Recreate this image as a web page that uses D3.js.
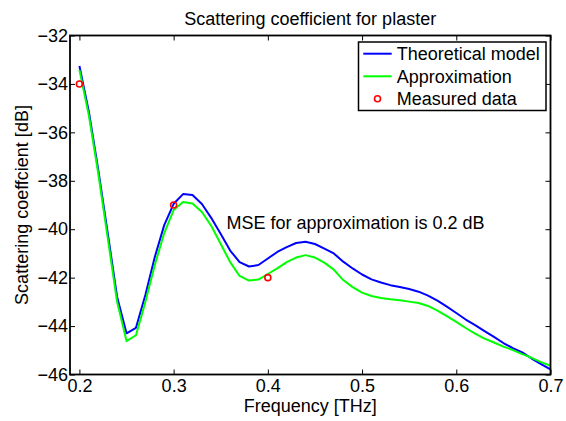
<!DOCTYPE html>
<html>
<head>
<meta charset="utf-8">
<script src="https://cdn.jsdelivr.net/npm/d3@7"></script>
<style>
  body { margin: 0; background: #fff; }
  text { font-family: "Liberation Sans", Arial, Helvetica, sans-serif; fill: #000; }
</style>
</head>
<body>
<svg id="chart" width="566" height="421"></svg>
<script>
// Frequency samples [THz]
const frequency = [
  0.20, 0.21, 0.22, 0.23, 0.24, 0.25, 0.26, 0.27, 0.28, 0.29,
  0.30, 0.31, 0.32, 0.33, 0.34, 0.35, 0.36, 0.37, 0.38, 0.39,
  0.40, 0.41, 0.42, 0.43, 0.44, 0.45, 0.46, 0.47, 0.48, 0.49,
  0.50, 0.51, 0.52, 0.53, 0.54, 0.55, 0.56, 0.57, 0.58, 0.59,
  0.60, 0.61, 0.62, 0.63, 0.64, 0.65, 0.66, 0.67, 0.68, 0.69,
  0.70
];

// Theoretical model [dB]
const theoretical = [
  -33.26, -35.15, -37.55, -40.15, -42.80, -44.30, -44.07, -42.72, -41.15, -39.83,
  -38.95, -38.55, -38.59, -38.96, -39.54, -40.20, -40.88, -41.36, -41.54, -41.48,
  -41.21, -40.94, -40.74, -40.57, -40.52, -40.61, -40.80, -41.00, -41.34, -41.62,
  -41.87, -42.07, -42.20, -42.31, -42.39, -42.47, -42.58, -42.74, -42.95, -43.20,
  -43.46, -43.73, -43.96, -44.21, -44.45, -44.70, -44.91, -45.09, -45.34, -45.57,
  -45.79
];

// Approximation [dB]
const approximation = [
  -33.42, -35.30, -37.70, -40.35, -43.00, -44.62, -44.38, -43.00, -41.48, -40.16,
  -39.21, -38.88, -38.94, -39.29, -39.87, -40.61, -41.36, -41.93, -42.12, -42.08,
  -41.85, -41.62, -41.36, -41.17, -41.07, -41.17, -41.38, -41.67, -42.10, -42.39,
  -42.62, -42.76, -42.84, -42.89, -42.93, -42.99, -43.05, -43.17, -43.36, -43.59,
  -43.83, -44.08, -44.31, -44.52, -44.68, -44.85, -44.99, -45.16, -45.31, -45.49,
  -45.64
];

// Measured data
const measuredFreq  = [0.2, 0.3, 0.4];
const measuredValue = [-34, -39, -42];

// Axis ticks
const xTicks = [0.2, 0.3, 0.4, 0.5, 0.6, 0.7];
const yTicks = [-46, -44, -42, -40, -38, -36, -34, -32];

const legendLabels = ["Theoretical model", "Approximation", "Measured data"];
const seriesColors = ["#0000ff", "#00ff00", "#ff0000"];

const svg = d3.select("#chart");
const plot = { left: 70, right: 550.5, top: 35.5, bottom: 374.5 };

const x = d3.scaleLinear().domain([0.19, 0.7]).range([plot.left, plot.right]);
const y = d3.scaleLinear().domain([-46, -32]).range([plot.bottom, plot.top]);

const fontSize = 18;

// Data lines
const line = (vals) => d3.line()
  .x((d, i) => x(frequency[i]))
  .y((d) => y(d))(vals);

svg.append("path")
  .attr("d", line(theoretical))
  .attr("fill", "none")
  .attr("stroke", seriesColors[0])
  .attr("stroke-width", 2)
  .attr("stroke-linejoin", "round");

svg.append("path")
  .attr("d", line(approximation))
  .attr("fill", "none")
  .attr("stroke", seriesColors[1])
  .attr("stroke-width", 2)
  .attr("stroke-linejoin", "round");

svg.append("g").selectAll("circle")
  .data(measuredFreq)
  .join("circle")
  .attr("cx", (d) => x(d))
  .attr("cy", (d, i) => y(measuredValue[i]))
  .attr("r", 3)
  .attr("fill", "none")
  .attr("stroke", seriesColors[2])
  .attr("stroke-width", 1.6);

// Axes: ticks point into the plot box on all four sides
function styleAxis(g) {
  g.select(".domain").remove();
  g.selectAll(".tick line").attr("stroke", "#000").attr("stroke-width", 1);
  g.selectAll(".tick text")
    .style("font-size", fontSize + "px")
    .style("font-family", '"Liberation Sans", Arial, sans-serif');
}

svg.append("g")
  .attr("transform", `translate(0,${plot.bottom})`)
  .call(d3.axisBottom(x).tickValues(xTicks).tickFormat(d3.format(".1f"))
    .tickSize(-5).tickPadding(5))
  .call(styleAxis);

svg.append("g")
  .attr("transform", `translate(0,${plot.top})`)
  .call(d3.axisTop(x).tickValues(xTicks).tickFormat("").tickSize(-5))
  .call(styleAxis);

svg.append("g")
  .attr("transform", `translate(${plot.left},0)`)
  .call(d3.axisLeft(y).tickValues(yTicks).tickFormat(d3.format("d"))
    .tickSize(-5).tickPadding(2))
  .call(styleAxis);

svg.append("g")
  .attr("transform", `translate(${plot.right},0)`)
  .call(d3.axisRight(y).tickValues(yTicks).tickFormat("").tickSize(-5))
  .call(styleAxis);

// Plot frame
svg.append("rect")
  .attr("x", plot.left)
  .attr("y", plot.top)
  .attr("width", plot.right - plot.left)
  .attr("height", plot.bottom - plot.top)
  .attr("fill", "none")
  .attr("stroke", "#000")
  .attr("stroke-width", 1.8);

// Title and axis labels
svg.append("text")
  .attr("x", (plot.left + plot.right) / 2)
  .attr("y", 25)
  .attr("text-anchor", "middle")
  .style("font-size", fontSize + "px")
  .text("Scattering coefficient for plaster");

svg.append("text")
  .attr("x", (plot.left + plot.right) / 2)
  .attr("y", 412)
  .attr("text-anchor", "middle")
  .style("font-size", fontSize + "px")
  .text("Frequency [THz]");

svg.append("text")
  .attr("transform", `translate(28,${(plot.top + plot.bottom) / 2}) rotate(-90)`)
  .attr("text-anchor", "middle")
  .style("font-size", fontSize + "px")
  .text("Scattering coeffcient [dB]");

// Annotation
svg.append("text")
  .attr("x", 226.5)
  .attr("y", 228.5)
  .style("font-size", fontSize + "px")
  .text("MSE for approximation is 0.2 dB");

// Legend
const legend = svg.append("g");
legend.append("rect")
  .attr("x", 358.5)
  .attr("y", 42)
  .attr("width", 187.5)
  .attr("height", 68.5)
  .attr("fill", "#fff")
  .attr("stroke", "#000")
  .attr("stroke-width", 1.5);

const rowY = [53.7, 76.3, 98.8];
legendLabels.forEach((label, i) => {
  if (i < 2) {
    legend.append("line")
      .attr("x1", 363.3).attr("x2", 391.7)
      .attr("y1", rowY[i]).attr("y2", rowY[i])
      .attr("stroke", seriesColors[i])
      .attr("stroke-width", 2);
  } else {
    legend.append("circle")
      .attr("cx", 377.5).attr("cy", rowY[i]).attr("r", 3)
      .attr("fill", "none")
      .attr("stroke", seriesColors[i])
      .attr("stroke-width", 1.6);
  }
  legend.append("text")
    .attr("x", 396.7)
    .attr("y", rowY[i])
    .attr("dy", "0.36em")
    .style("font-size", fontSize + "px")
    .text(label);
});
</script>
</body>
</html>
